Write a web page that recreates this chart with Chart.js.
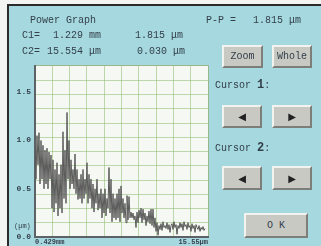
<!DOCTYPE html>
<html><head><meta charset="utf-8">
<script src="https://cdn.jsdelivr.net/npm/chart.js@4.4.0/dist/chart.umd.min.js"></script>
<style>
html,body{margin:0;padding:0;background:#f3f5f3;}
#wrap{position:relative;width:321px;height:246px;overflow:hidden;background:#f3f5f3;}
#panel{position:absolute;left:7px;top:4px;width:314px;height:242px;background:#a6d9df;border-left:2px solid #2b2b2b;border-top:2px solid #2b2b2b;box-sizing:border-box;}
canvas{position:absolute;left:0;top:0;}
.t{position:absolute;font-family:"Liberation Mono",monospace;font-size:10px;color:#34404c;white-space:pre;line-height:10px;}
.b{position:absolute;box-sizing:border-box;background:#c8c9c3;border:2px solid;border-color:#f2f2ee #7d7e7a #7d7e7a #f2f2ee;font-family:"Liberation Mono",monospace;font-size:10px;color:#34404c;display:flex;align-items:center;justify-content:center;}
.a{font-family:"DejaVu Sans",sans-serif;font-size:10px;color:#222;}
</style></head>
<body><div id="wrap">
<div id="panel"></div>
<canvas id="c" width="321" height="246"></canvas>
<div class="t" style="left:30px;top:16px">Power Graph</div>
<div class="t" style="left:206px;top:16px">P-P =</div>
<div class="t" style="left:253px;top:16px">1.815 μm</div>
<div class="t" style="left:22px;top:31px">C1=</div>
<div class="t" style="left:53px;top:31px">1.229 mm</div>
<div class="t" style="left:135px;top:31px">1.815 μm</div>
<div class="t" style="left:22px;top:47px">C2=</div>
<div class="t" style="left:47px;top:47px">15.554 μm</div>
<div class="t" style="left:137px;top:47px">0.030 μm</div>
<div class="b" style="left:222px;top:45px;width:41px;height:23px">Zoom</div>
<div class="b" style="left:272px;top:45px;width:40px;height:23px">Whole</div>
<div class="t" style="left:215px;top:80px">Cursor <b style="font-size:12px">1</b>:</div>
<div class="b a" style="left:222px;top:105px;width:40px;height:23px">◀</div>
<div class="b a" style="left:272px;top:105px;width:40px;height:23px">▶</div>
<div class="t" style="left:215px;top:143px">Cursor <b style="font-size:12px">2</b>:</div>
<div class="b a" style="left:222px;top:166px;width:40px;height:24px">◀</div>
<div class="b a" style="left:272px;top:166px;width:40px;height:24px">▶</div>
<div class="b" style="left:244px;top:213px;width:64px;height:25px">O K</div>
<div class="t" style="left:14px;top:223px;font-size:7px;line-height:7px">(μm)</div>
</div>
<script>
const xLabels = ["0.429mm", "15.55μm"];
const yTickValues = [0, 0.5, 1.0, 1.5];
const yTickLabels = ["0.0", "0.5", "1.0", "1.5"];
const trace = [
  0.95,0.6,1.05,0.75,1.08,0.55,1.0,0.6,0.95,0.5,0.9,
  0.55,0.92,0.5,0.88,0.6,
  0.85,0.3,0.8,0.26,0.7,
  0.35,0.77,0.22,0.65,0.3,
  0.75,0.25,1.09,0.4,0.9,
  0.35,1.29,0.6,1.0,0.5,
  0.8,0.55,0.7,0.5,0.86,
  0.45,0.7,0.39,0.6,0.4,
  0.65,0.35,0.7,0.4,0.6,0.45,0.77,0.35,0.65,0.4,
  0.6,0.3,0.55,0.26,0.5,0.35,0.6,0.28,0.45,0.3,
  0.5,0.2,0.45,0.25,0.5,0.22,0.4,0.3,
  0.72,0.25,0.6,0.16,0.45,0.2,0.4,
  0.18,0.45,0.2,0.5,0.16,0.53,0.25,0.4,0.2,0.35,
  0.15,0.43,0.18,0.42,0.2,
  0.26,0.2,0.25,0.18,0.22,0.1,0.26,0.15,0.28,0.2,
  0.3,0.15,0.29,0.18,0.25,0.12,0.22,0.16,0.27,0.14,
  0.29,0.12,0.29,0.1,0.2,0.06,0.15,0.02,0.12,0.08,
  0.14,0.07,0.16,0.1,0.12,0.09,0.15,0.08,0.13,0.05,
  0.12,0.14,0.08,0.16,0.1,0.13,0.03,0.12,0.09,0.15,
  0.1,0.14,0.07,0.16,0.11,0.13,0.08,0.15,0.1,0.12,
  0.06,0.14,0.09,0.12,0.05,0.13,0.1,0.08,0.12,0.06,
  0.1,0.08,0.11,0.07,0.09
];
const X_MAX = 173, Y_MAX = 1.77;
const X_DIV = 10, Y_DIV = 12;

const plotBg = {
  id: 'plotBg',
  beforeDraw(chart) {
    const {ctx, chartArea: a} = chart;
    ctx.save();
    ctx.fillStyle = '#f6f9f3';
    ctx.fillRect(a.left, a.top, a.right - a.left, a.bottom - a.top);
    ctx.strokeStyle = '#a9aeae';
    ctx.lineWidth = 1;
    ctx.strokeRect(a.left + 0.5, a.top - 0.5, a.right - a.left, a.bottom - a.top);
    ctx.restore();
  }
};

new Chart(document.getElementById('c'), {
  type: 'line',
  data: {
    datasets: [{
      data: trace.map((v, i) => ({x: i, y: v})),
      borderColor: '#5a5a5a',
      borderWidth: 1,
      pointRadius: 0,
      tension: 0
    }]
  },
  options: {
    responsive: false,
    animation: false,
    layout: {padding: {left: 0, top: 66, right: 113, bottom: 0}},
    plugins: {legend: {display: false}, tooltip: {enabled: false}},
    scales: {
      x: {
        type: 'linear', min: 0, max: X_MAX, position: 'bottom',
        afterBuildTicks: s => { s.ticks = [{value: 0}, {value: X_MAX}]; },
        afterFit: s => { s.height = 8; },
        ticks: {
          callback: (v, i) => xLabels[i], align: 'inner', padding: 1, maxRotation: 0,
          autoSkip: false, font: {family: 'Liberation Mono', size: 7, weight: 'bold'}, color: '#34404c'
        },
        grid: {display: false, drawTicks: false},
        border: {display: true, color: '#5d6266', width: 2}
      },
      xg: {
        type: 'linear', min: 0, max: X_MAX, position: 'bottom',
        afterBuildTicks: s => { const t = []; for (let k = 0; k <= X_DIV; k++) t.push({value: X_MAX * k / X_DIV}); s.ticks = t; },
        afterFit: s => { s.height = 0; },
        ticks: {display: false},
        grid: {color: 'rgba(140,190,110,0.55)', lineWidth: 1, drawTicks: false},
        border: {display: false}
      },
      y: {
        type: 'linear', min: 0, max: Y_MAX, position: 'left',
        afterBuildTicks: s => { s.ticks = yTickValues.map(v => ({value: v})); },
        afterFit: s => { s.width = 35; },
        ticks: {
          callback: (v, i) => yTickLabels[i], padding: 4, autoSkip: false,
          font: {family: 'Liberation Mono', size: 8, weight: 'bold'}, color: '#34404c'
        },
        grid: {display: false, drawTicks: false},
        border: {display: true, color: '#5d6266', width: 2}
      },
      yg: {
        type: 'linear', min: 0, max: Y_MAX, position: 'left',
        afterBuildTicks: s => { const t = []; for (let k = 0; k <= Y_DIV; k++) t.push({value: Y_MAX * k / Y_DIV}); s.ticks = t; },
        afterFit: s => { s.width = 0; },
        ticks: {display: false},
        grid: {color: 'rgba(140,190,110,0.55)', lineWidth: 1, drawTicks: false},
        border: {display: false}
      }
    }
  },
  plugins: [plotBg]
});
</script>
</body></html>
